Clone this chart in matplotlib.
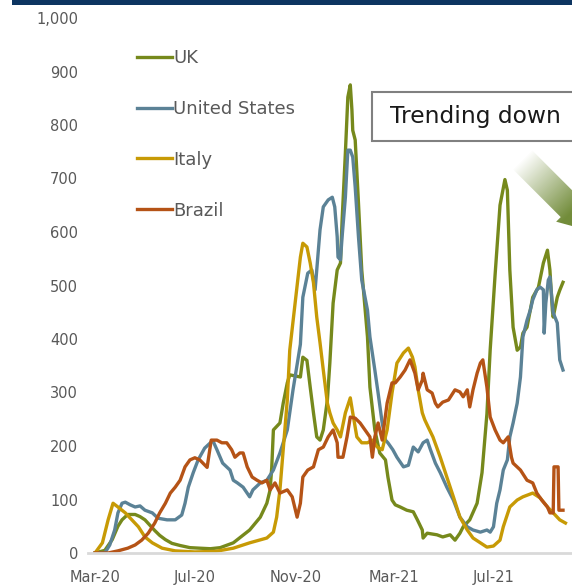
import numpy as np
import pandas as pd
import matplotlib
matplotlib.use('Agg')
import matplotlib.pyplot as plt
import matplotlib.dates as mdates
from matplotlib.patches import Polygon, Rectangle

plt.rcParams['font.family'] = ['DejaVu Sans']

# days since 1 Mar 2020
uk_days = [0, 12, 21, 28, 33, 40, 49, 55, 61, 67, 73, 79, 86, 94, 104, 116, 128, 141, 153, 169,
           189, 202, 210, 214, 216, 218, 226, 230, 235, 238, 251, 254, 259, 263, 267, 271, 275,
           279, 284, 287, 291, 296, 300, 302, 306, 309, 312, 314, 315, 318, 322, 326, 333, 336,
           342, 348, 355, 358, 363, 367, 373, 381, 389, 394, 400, 401, 406, 418, 425, 434, 440,
           446, 450, 458, 467, 473, 479, 483, 489, 495, 501, 504, 507, 511, 516, 520, 523, 528,
           532, 535, 542, 548, 553, 556, 559, 560, 565, 568, 572]
uk = [0, 5, 25, 50, 62, 72, 72, 68, 62, 52, 42, 33, 25, 18, 14, 10, 9, 8, 10, 19,
      43, 67, 93, 118, 160, 230, 243, 280, 318, 333, 329, 366, 360, 310, 262, 217, 211,
      230, 286, 355, 467, 529, 542, 622, 748, 852, 875, 828, 790, 772, 654, 529, 404, 310,
      230, 187, 174, 142, 99, 90, 86, 80, 77, 62, 43, 28, 37, 34, 30, 34, 24,
      37, 49, 62, 93, 150, 260, 380, 520, 650, 698, 678, 529, 422, 379, 385, 411, 422,
      454, 478, 497, 542, 566, 529, 454, 441, 478, 491, 506]

us_days = [0, 12, 18, 24, 28, 33, 37, 43, 49, 55, 61, 70, 77, 88, 98, 106, 110, 114, 120, 126,
           134, 141, 144, 149, 156, 165, 169, 174, 181, 189, 193, 202, 210, 218, 226, 235, 242,
           251, 254, 260, 265, 269, 271, 275, 279, 285, 290, 293, 296, 297, 300, 302, 306, 309,
           312, 315, 318, 322, 326, 333, 336, 342, 346, 351, 355, 358, 364, 369, 377, 383, 389,
           395, 401, 406, 410, 416, 422, 430, 438, 446, 455, 462, 471, 479, 483, 487, 491, 495,
           499, 504, 507, 511, 516, 520, 523, 528, 532, 535, 540, 544, 548, 549, 551, 554, 556,
           560, 565, 568, 572]
us = [0, 0, 15, 43, 75, 93, 95, 90, 86, 88, 80, 75, 65, 62, 62, 71, 93, 123, 150, 174,
      196, 206, 210, 193, 168, 155, 136, 131, 123, 105, 118, 131, 136, 155, 187, 230, 305,
      390, 478, 523, 529, 492, 529, 604, 647, 660, 665, 647, 591, 553, 548, 591, 665, 753,
      753, 740, 684, 591, 510, 454, 404, 342, 299, 243, 211, 206, 193, 179, 161, 164, 198,
      189, 206, 211, 193, 168, 150, 123, 99, 67, 49, 43, 39, 43, 39, 49, 93, 118,
      155, 174, 217, 243, 280, 329, 404, 435, 454, 473, 492, 497, 492, 411, 467, 510, 516,
      449, 430, 361, 342]

italy_days = [0, 9, 16, 22, 28, 37, 45, 53, 61, 70, 82, 98, 122, 147, 169, 189, 210, 218, 222, 226,
              230, 235, 238, 245, 251, 254, 259, 263, 267, 271, 275, 279, 284, 287, 291, 296, 300,
              306, 312, 315, 320, 326, 333, 339, 345, 351, 357, 363, 369, 377, 383, 388, 391, 395,
              400, 403, 407, 413, 422, 430, 438, 446, 455, 462, 471, 479, 487, 495, 499, 507, 516,
              523, 535, 544, 553, 560, 568, 575]
italy = [0, 19, 62, 93, 86, 75, 62, 49, 30, 19, 9, 4, 2, 3, 9, 19, 28, 39, 67, 118,
         193, 286, 379, 473, 553, 579, 572, 542, 505, 441, 393, 342, 280, 262, 243, 230, 217,
         262, 290, 262, 217, 206, 206, 211, 198, 193, 230, 299, 355, 374, 383, 366, 348, 305,
         262, 249, 236, 217, 179, 142, 105, 67, 43, 28, 19, 11, 13, 24, 49, 86, 99,
         105, 112, 103, 86, 75, 62, 56]

brazil_days = [0, 16, 28, 40, 49, 57, 65, 73, 79, 86, 92, 98, 104, 110, 116, 122, 128, 137, 142, 149,
               155, 161, 167, 171, 177, 181, 186, 192, 198, 204, 210, 214, 220, 226, 235, 241, 247,
               251, 254, 260, 267, 273, 279, 285, 291, 296, 297, 303, 308, 312, 318, 324, 330, 336,
               339, 342, 346, 351, 357, 363, 367, 373, 379, 385, 391, 395, 400, 401, 406, 412, 416,
               419, 425, 432, 440, 446, 450, 455, 458, 462, 467, 471, 474, 479, 483, 489, 495, 499,
               505, 509, 511, 520, 528, 535, 540, 546, 553, 556, 560, 561, 566, 567, 572]
brazil = [0, 0, 4, 9, 15, 24, 37, 56, 75, 93, 112, 123, 136, 161, 174, 178, 174, 160, 211, 211,
          206, 206, 193, 179, 187, 187, 161, 142, 136, 131, 136, 118, 131, 112, 118, 105, 67,
          93, 142, 155, 161, 193, 198, 217, 230, 206, 179, 179, 217, 254, 252, 243, 230, 217,
          179, 217, 243, 211, 280, 318, 318, 329, 342, 361, 336, 305, 323, 336, 305, 299, 280,
          273, 282, 286, 305, 301, 292, 305, 273, 305, 336, 355, 361, 310, 254, 230, 211, 206,
          217, 179, 168, 155, 136, 131, 112, 99, 86, 75, 75, 161, 161, 80, 80]

names = ['UK', 'United States', 'Italy', 'Brazil']
colors = ['#76891c', '#5b8296', '#c79a05', '#b55316']
tick_dates = ['2020-03-01', '2020-07-01', '2020-11-01', '2021-03-01', '2021-07-01']

start = pd.Timestamp('2020-03-01')


def to_dates(days):
    return start + pd.to_timedelta(days, unit='D')


W, H = 572, 586
fig = plt.figure(figsize=(W / 100, H / 100), dpi=100)
ax = fig.add_axes([88 / W, (H - 553) / H, (W - 88) / W, 535 / H])

for d, v, name, c in zip([uk_days, us_days, italy_days, brazil_days], [uk, us, italy, brazil], names, colors):
    ax.plot(to_dates(d), v, color=c, lw=2.4, label=name, solid_joinstyle='round')

ax.set_ylim(0, 1000)
ax.set_xlim(start - pd.Timedelta(days=8.6), start + pd.Timedelta(days=583))
ax.set_yticks(range(0, 1001, 100))
ax.yaxis.set_major_formatter(matplotlib.ticker.StrMethodFormatter('{x:,.0f}'))
ax.set_xticks(pd.to_datetime(tick_dates))
ax.xaxis.set_major_formatter(mdates.DateFormatter('%b-%y'))
ax.tick_params(length=0, labelsize=10.5, labelcolor='#595959')
ax.tick_params(axis='y', pad=7)
ax.tick_params(axis='x', pad=12)
for s in ['top', 'right', 'left']:
    ax.spines[s].set_visible(False)
ax.spines['bottom'].set_color('#d9d9d9')
ax.spines['bottom'].set_linewidth(2)

fig.legend(loc='upper left', bbox_to_anchor=(137 / W, 1 - 49 / H), frameon=False,
           fontsize=13, labelcolor='#595959', handlelength=1.95, handletextpad=0.05,
           labelspacing=1.82, borderpad=0, borderaxespad=0)

# overlay in pixel coordinates for decorations
ov = fig.add_axes([0, 0, 1, 1], zorder=5)
ov.set_xlim(0, W)
ov.set_ylim(H, 0)
ov.axis('off')
ov.patch.set_alpha(0)

ov.add_patch(Rectangle((12, 0), W, 4.5, color='#0d3561', lw=0))
ov.add_patch(Rectangle((372, 92), 260, 49, facecolor='white', edgecolor='#808080', lw=1.5))
ov.text(390, 117, 'Trending down', fontsize=16.8, color='#1a1a1a', va='center', ha='left')

# gradient arrow
s2 = np.sqrt(2)
def pt(u, n):
    return ((u + n) / s2, (u - n) / s2)
nc, hw, bw = 256.5, 13.5, 20
arrow = [pt(475, nc - hw), pt(475, nc + hw), pt(550, nc + hw), pt(550, nc + bw + 6),
         pt(585, nc), pt(550, nc - bw), pt(550, nc - hw)]
poly = Polygon(arrow, closed=True, facecolor='none', edgecolor='none')
ov.add_patch(poly)
yy, xx = np.mgrid[0:H, 0:W] + 0.5
u = (xx + yy) / s2
a = np.clip((u - 482) / 72, 0, 1)
img = np.zeros((H, W, 4))
img[..., 0] = 0x72 / 255
img[..., 1] = 0x8c / 255
img[..., 2] = 0x3a / 255
img[..., 3] = a
im = ov.imshow(img, extent=[0, W, H, 0], interpolation='bilinear', aspect='auto')
im.set_clip_path(poly)
ov.set_xlim(0, W)
ov.set_ylim(H, 0)

fig.savefig('out.png', dpi=100)
